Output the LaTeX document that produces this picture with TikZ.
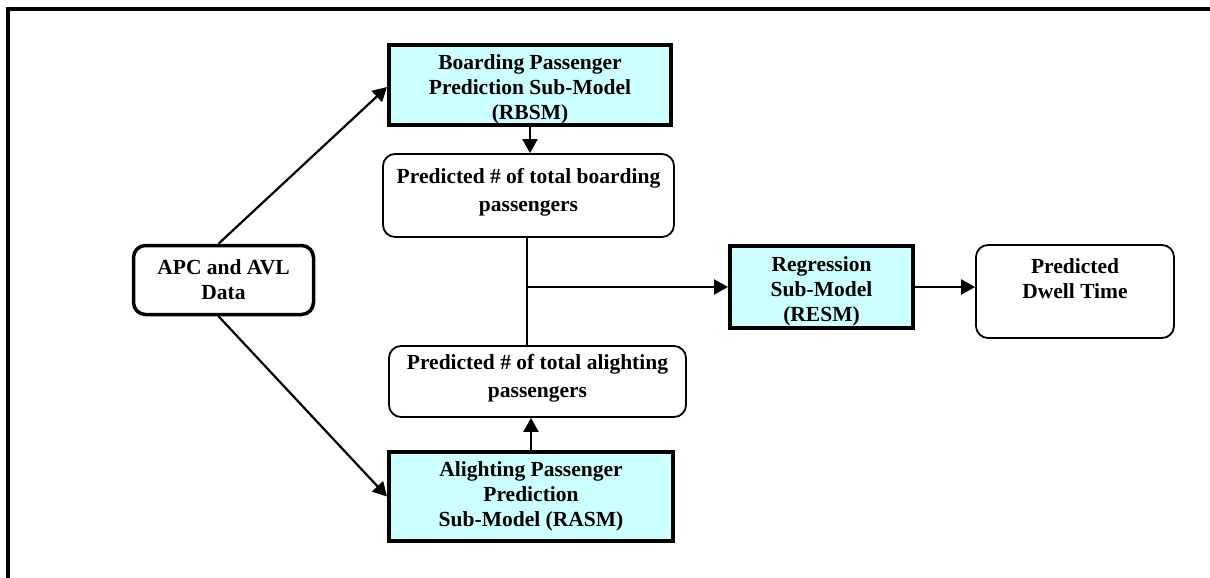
\documentclass[tikz,border=0pt]{standalone}
\usepackage{fontspec}
\setmainfont{Liberation Serif}
\usetikzlibrary{arrows.meta,calc}
\definecolor{boxcyan}{HTML}{CCFFFF}
\begin{document}
\begin{tikzpicture}[x=1pt,y=-1pt,
  every node/.style={font=\bfseries\fontsize{21.5}{25}\selectfont, align=center, inner sep=0pt},
  subbox/.style={draw, line width=4pt, fill=boxcyan, rectangle},
  outbox/.style={draw, line width=1.8pt, rounded corners=12pt, fill=white},
  inbox/.style={draw, line width=3.5pt, rounded corners=12pt, fill=white},
  conn/.style={line width=2.2pt},
  arr/.style={conn, -{Triangle[length=14pt,width=15pt]}}]
\useasboundingbox (0,0) rectangle (1210,578);
\draw[line width=4pt] (1210,9) -- (8,9) -- (8,578);

\node[inbox, minimum width=180pt, minimum height=69pt] (apc) at (223.5,280) {APC and AVL\\Data};
\node[subbox, minimum width=282pt, minimum height=80pt,
  label={[yshift=-4.5pt]center:Boarding Passenger\\Prediction Sub-Model\\(RBSM)}] (rbsm) at (530,85) {};
\node[outbox, minimum width=291pt, minimum height=83pt, font=\bfseries\fontsize{21.5}{28}\selectfont] (board) at (528.5,195.5) {Predicted \# of total boarding\\passengers\\[-16pt]\mbox{}};
\node[outbox, minimum width=297pt, minimum height=71pt, font=\bfseries\fontsize{21.5}{28}\selectfont] (alight) at (537.5,381.5) {Predicted \# of total alighting\\passengers\\[-16pt]\mbox{}};
\node[subbox, minimum width=284pt, minimum height=89pt] (rasm) at (531,496.5) {Alighting Passenger\\Prediction\\Sub-Model (RASM)};
\node[subbox, minimum width=183pt, minimum height=82pt,
  label={[yshift=-4pt]center:Regression\\Sub-Model\\(RESM)}] (resm) at (821.5,287) {};
\node[outbox, minimum width=198pt, minimum height=93pt] (dwell) at (1075,291.5) {Predicted\\Dwell Time\\\mbox{}};

\coordinate (j) at (527,287);
\draw[arr] (rbsm.south) -- (rbsm.south |- board.north);
\draw[arr] (rasm.north) -- (rasm.north |- alight.south);
\draw[conn] (j |- board.south) -- (j |- alight.north);
\draw[arr] (j) -- (resm.west |- j);
\draw[arr] (resm.east) -- (resm.east -| dwell.west);
\draw[arr] ($(apc.north)+(-5,0)$) -- ($(rbsm.west)+(0,2)$);
\draw[arr] ($(apc.south)+(-5,0)$) -- (rasm.west);
\end{tikzpicture}
\end{document}
